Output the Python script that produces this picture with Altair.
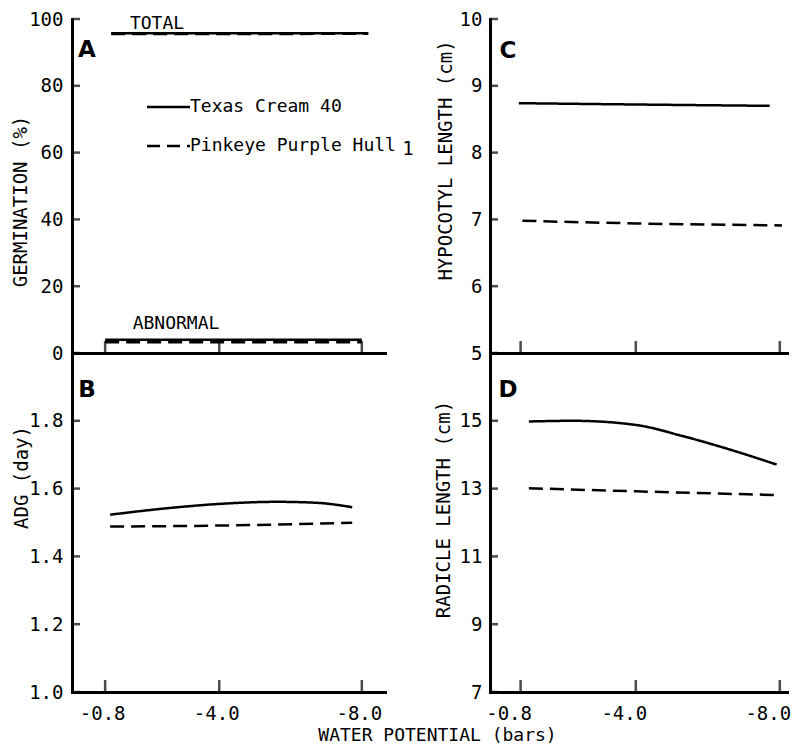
import altair as alt
import pandas as pd

FONT = "DejaVu Sans Mono"
SERIES = ["Texas Cream 40", "Pinkeye Purple Hull"]
DASHES = [[1, 0], [14, 7]]

X_TICKS = [-0.8, -4.0, -8.0]
X_TITLE = "WATER POTENTIAL (bars)"

# Panel A: germination (%)
A_TOTAL_X = [-0.97, -4.0, -8.18]
A_TOTAL_TEXAS = [95.7, 95.7, 95.7]
A_TOTAL_PINK = [95.5, 95.5, 95.6]
A_ABN_X = [-0.8, -4.0, -8.0]
A_ABN_TEXAS = [4.0, 4.0, 4.0]
A_ABN_PINK = [3.2, 3.2, 3.2]
A_YTICKS = [0, 20, 40, 60, 80, 100]

# Panel B: ADG (day)
B_TEXAS_X = [-0.94, -2.53, -4.03, -5.62, -6.75, -7.73]
B_TEXAS_Y = [1.523, 1.542, 1.555, 1.561, 1.558, 1.545]
B_PINK_X = [-0.94, -4.03, -7.73]
B_PINK_Y = [1.488, 1.491, 1.499]
B_YTICKS = [1.0, 1.2, 1.4, 1.6, 1.8]

# Panel C: hypocotyl length (cm)
C_TEXAS_X = [-0.75, -4.0, -7.72]
C_TEXAS_Y = [8.74, 8.72, 8.70]
C_PINK_X = [-0.85, -4.0, -8.06]
C_PINK_Y = [6.98, 6.94, 6.91]
C_YTICKS = [5, 6, 7, 8, 9, 10]

# Panel D: radicle length (cm)
D_TEXAS_X = [-1.03, -2.26, -3.99, -5.30, -6.68, -7.91]
D_TEXAS_Y = [14.98, 15.0, 14.88, 14.55, 14.13, 13.71]
D_PINK_X = [-1.03, -4.0, -7.91]
D_PINK_Y = [13.01, 12.92, 12.81]
D_YTICKS = [7, 9, 11, 13, 15]


def lines_df(groups):
    rows = []
    for series, key, xs, ys in groups:
        for i, (x, y) in enumerate(zip(xs, ys)):
            rows.append({"x": x, "y": y, "series": series, "key": key, "i": i})
    return pd.DataFrame(rows)


def text_layer(txt, x, y, size, weight="normal", align="left", font=FONT):
    return alt.Chart(pd.DataFrame({"t": [txt]})).mark_text(
        align=align, baseline="middle", fontSize=size, font=font,
        fontWeight=weight, color="black"
    ).encode(x=alt.value(x), y=alt.value(y), text="t:N")


def panel(df, xdom, w, h, ydom, yticks, yfmt, ytitle, tx, ty, lpad,
          xlabels=False, loff=-3, extra=None):
    if xlabels:
        xaxis = alt.Axis(
            values=X_TICKS,
            labelExpr="(datum.value < 0 ? '-' : '') + format(abs(datum.value), '.1f')",
            labelPadding=12, labelOffset=loff,
            title=X_TITLE if xlabels == "title" else None,
            titleX=365, titleY=43, titleAlign="center", titleBaseline="middle",
            titleFontSize=18,
        )
    else:
        xaxis = alt.Axis(values=X_TICKS, labels=False, title=None)
    xenc = alt.X("x:Q", scale=alt.Scale(domain=xdom, nice=False, zero=False), axis=xaxis)
    yenc = alt.Y(
        "y:Q",
        scale=alt.Scale(domain=ydom, nice=False, zero=False),
        axis=alt.Axis(
            values=yticks, format=yfmt, title=ytitle, labelPadding=lpad,
            titleX=tx, titleY=ty, titleAngle=270,
            titleAlign="center", titleBaseline="middle",
        ),
    )
    lines = alt.Chart(df).mark_line(
        color="black", strokeWidth=2.5, interpolate="monotone"
    ).encode(
        x=xenc, y=yenc,
        strokeDash=alt.StrokeDash("series:N", scale=alt.Scale(domain=SERIES, range=DASHES), legend=None),
        detail="key:N",
        order="i:Q",
    )
    xt = alt.Chart(pd.DataFrame({"x": X_TICKS})).mark_tick(
        orient="vertical", color="black", thickness=2.5, size=12
    ).encode(x=xenc, y=alt.value(h - 6))
    yt = alt.Chart(pd.DataFrame({"y": yticks})).mark_tick(
        orient="horizontal", color="black", thickness=2.5, size=8
    ).encode(y=yenc, x=alt.value(4))
    layers = [lines, xt, yt] + (extra or [])
    return alt.layer(*layers).properties(width=w, height=h)


LEFT_DOM = [0.13, -8.65]
RIGHT_DOM = [0.05, -8.2]

dfA = lines_df([
    (SERIES[0], "t_total", A_TOTAL_X, A_TOTAL_TEXAS),
    (SERIES[1], "p_total", A_TOTAL_X, A_TOTAL_PINK),
    (SERIES[0], "t_abn", A_ABN_X, A_ABN_TEXAS),
    (SERIES[1], "p_abn", A_ABN_X, A_ABN_PINK),
])
legend_layers = [
    alt.Chart(pd.DataFrame({"s": [SERIES[0]]})).mark_rule(color="black", strokeWidth=2.5)
    .encode(x=alt.value(75), x2=alt.value(118), y=alt.value(88)),
    alt.Chart(pd.DataFrame({"s": [SERIES[1]]})).mark_rule(color="black", strokeWidth=2.5, strokeDash=[13, 7])
    .encode(x=alt.value(75), x2=alt.value(118), y=alt.value(127)),
    text_layer(SERIES[0], 118, 88, 18),
    text_layer(SERIES[1], 118, 127, 18),
    text_layer("TOTAL", 85, 5, 18, align="center"),
    text_layer("ABNORMAL", 104, 305, 18, align="center"),
    text_layer("A", 15, 31, 23, weight="bold", align="center", font="DejaVu Sans"),
]
pA = panel(dfA, LEFT_DOM, 313, 334, [0, 100], A_YTICKS, "d", "GERMINATION (%)",
           -52, 182, 9, xlabels=False, extra=legend_layers)

dfB = lines_df([
    (SERIES[0], "t", B_TEXAS_X, B_TEXAS_Y),
    (SERIES[1], "p", B_PINK_X, B_PINK_Y),
])
pB = panel(dfB, LEFT_DOM, 313, 339, [1.0, 2.0], B_YTICKS, ".1f", "ADG (day)",
           -51, 124, 9, xlabels="title", loff=-3,
           extra=[text_layer("B", 15, 37, 23, weight="bold", align="center", font="DejaVu Sans")])

dfC = lines_df([
    (SERIES[0], "t", C_TEXAS_X, C_TEXAS_Y),
    (SERIES[1], "p", C_PINK_X, C_PINK_Y),
])
pC = panel(dfC, RIGHT_DOM, 297, 334, [5, 10], C_YTICKS, "d", "HYPOCOTYL LENGTH (cm)",
           -45, 141, 8, xlabels=False,
           extra=[text_layer("C", 18, 32, 23, weight="bold", align="center", font="DejaVu Sans"),
                  text_layer("1", -82, 130, 19, align="center")])

dfD = lines_df([
    (SERIES[0], "t", D_TEXAS_X, D_TEXAS_Y),
    (SERIES[1], "p", D_PINK_X, D_PINK_Y),
])
pD = panel(dfD, RIGHT_DOM, 297, 339, [7, 17], D_YTICKS, "d", "RADICLE LENGTH (cm)",
           -47, 156, 8, xlabels=True, loff=-12,
           extra=[text_layer("D", 18, 37, 23, weight="bold", align="center", font="DejaVu Sans")])

chart = alt.concat(
    pA, pC, pB, pD, columns=2, spacing={"row": 0, "column": 105},
    bounds="flush", align="each"
).properties(
    padding={"left": 3, "top": 2, "right": 0, "bottom": 0}
).configure_view(strokeWidth=0).configure_axis(
    domainColor="black", domainWidth=3, domainCap="square",
    ticks=False, tickSize=0, grid=False,
    labelFont=FONT, labelFontSize=19, labelColor="black",
    labelFlush=False, labelOverlap=False, labelBound=False,
    titleFont=FONT, titleFontSize=19, titleFontWeight="normal", titleColor="black",
)

chart.save("out.html", embed_options={"renderer": "svg", "actions": False})
